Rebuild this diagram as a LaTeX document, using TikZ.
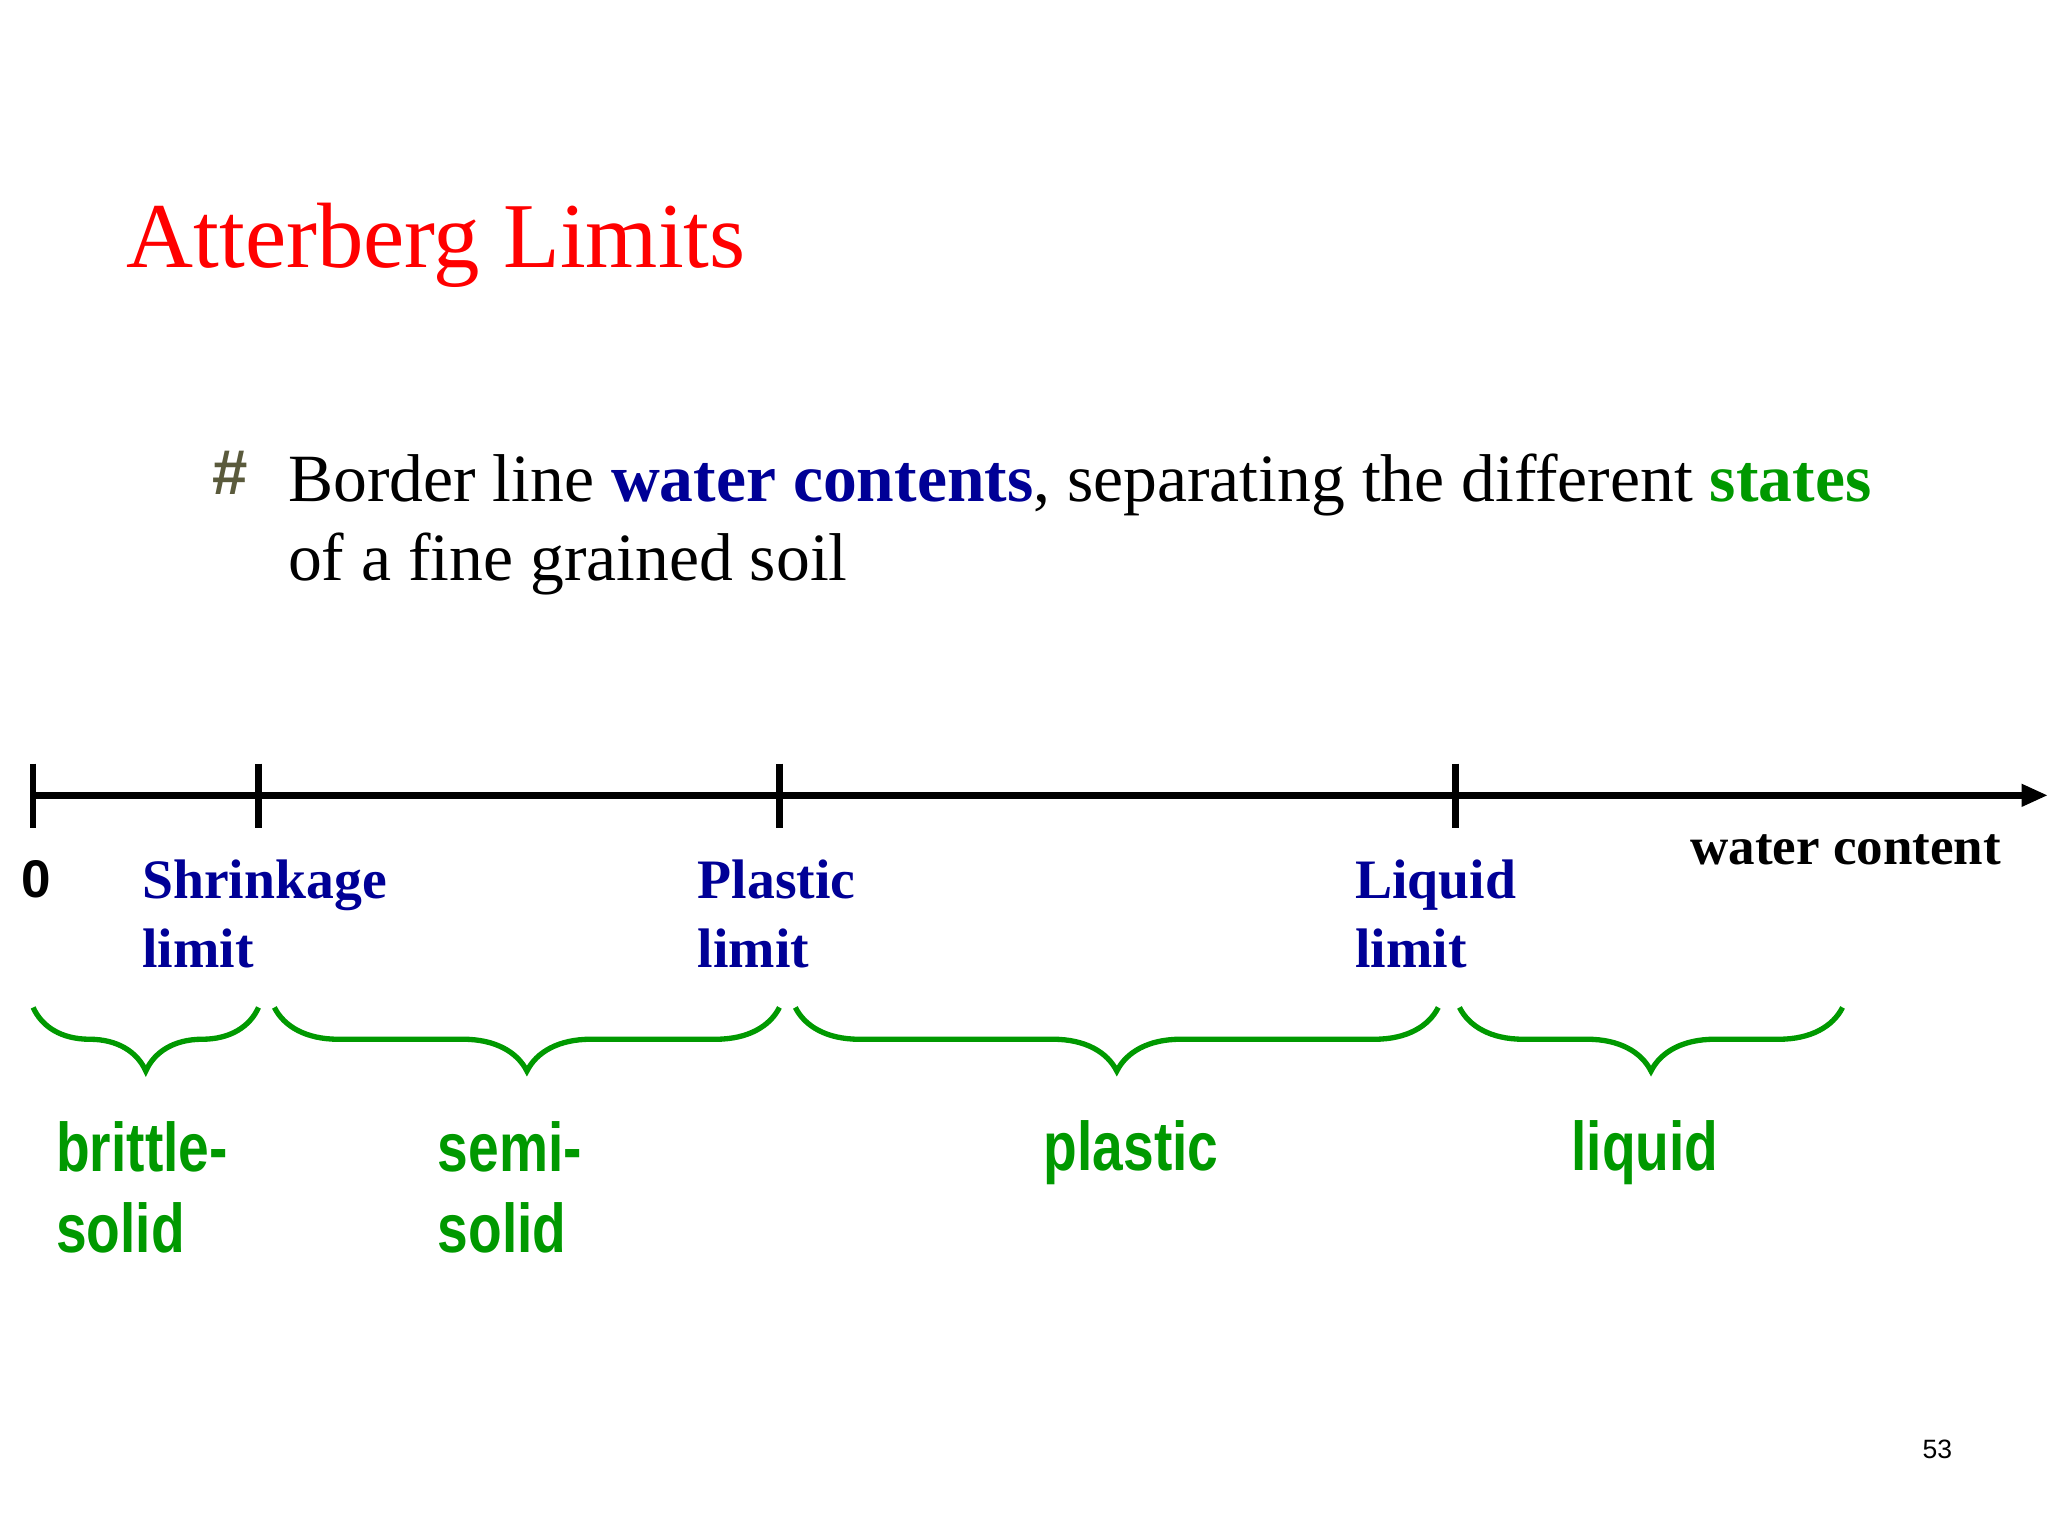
\documentclass[tikz,border=0pt]{standalone}
\usepackage{fontspec}
\setmainfont{Liberation Serif}
\setsansfont{Liberation Sans}
\newfontfamily\narrowsans[FakeStretch=0.8]{Liberation Sans}
\usetikzlibrary{decorations.pathreplacing,arrows.meta}
\definecolor{navy}{RGB}{0,0,150}
\definecolor{grn}{RGB}{0,153,0}
\definecolor{bul}{RGB}{90,90,60}
\tikzset{
  tick/.style={line width=2.5pt},
  lim/.style={anchor=base west,align=left,text=navy,font=\fontsize{21}{26}\selectfont\bfseries,inner sep=0pt},
  st/.style={anchor=base west,align=left,text=grn,font=\fontsize{26}{30.5}\selectfont\narrowsans\bfseries,inner sep=0pt},
  br/.style={draw=grn,line width=2pt,decorate,decoration={brace,amplitude=24pt,aspect=0.5}}
}
\begin{document}
\begin{tikzpicture}[x=0.5pt,y=-0.5pt]
\useasboundingbox (0,0) rectangle (1545,1159);
\node[anchor=base west,inner sep=0pt,text=red,font=\fontsize{35}{40}\selectfont] (title) at (95,202) {Atterberg Limits};
\node[anchor=center,inner sep=0pt,text=bul,font=\fontsize{24}{26}\selectfont\sffamily\bfseries] (bullet) at (174,357) {\#};
\node[anchor=base west,inner sep=0pt,align=left,font=\fontsize{25.5}{30}\selectfont] (body) at (217,438) {Border line \textbf{\color{navy}water contents}, separating the different \textbf{\color{grn}states}\\of a fine grained soil};
\coordinate (a0) at (25,600);
\coordinate (aend) at (1545,600);
\draw[tick,-{Triangle[length=10pt,width=8pt]}] (a0) -- (aend);
\foreach \x in {25,195,588,1098}{
  \draw[tick] (\x,576) -- (\x,625);
}
\node[anchor=base west,inner sep=0pt,font=\fontsize{20}{24}\selectfont\sffamily\bfseries] (zero) at (16,677) {0};
\node[lim] (sl) at (107,730) {Shrinkage\\limit};
\node[lim] (pl) at (526,730) {Plastic\\limit};
\node[lim] (ll) at (1022,730) {Liquid\\limit};
\node[anchor=base east,inner sep=0pt,font=\fontsize{20}{24}\selectfont\bfseries] (wc) at (1510,652) {water content};
\draw[br] (195,760) -- (25,760);
\draw[br] (588,760) -- (207,760);
\draw[br] (1085,760) -- (600,760);
\draw[br] (1390,760) -- (1101,760);
\node[st] (s1) at (42,945) {brittle-\\solid};
\node[st] (s2) at (330,945) {semi-\\solid};
\node[st] (s3) at (787,883) {plastic};
\node[st] (s4) at (1185,883) {liquid};
\node[anchor=base west,inner sep=0pt,font=\fontsize{10}{12}\selectfont\sffamily] (pg) at (1450,1100) {53};
\end{tikzpicture}
\end{document}
